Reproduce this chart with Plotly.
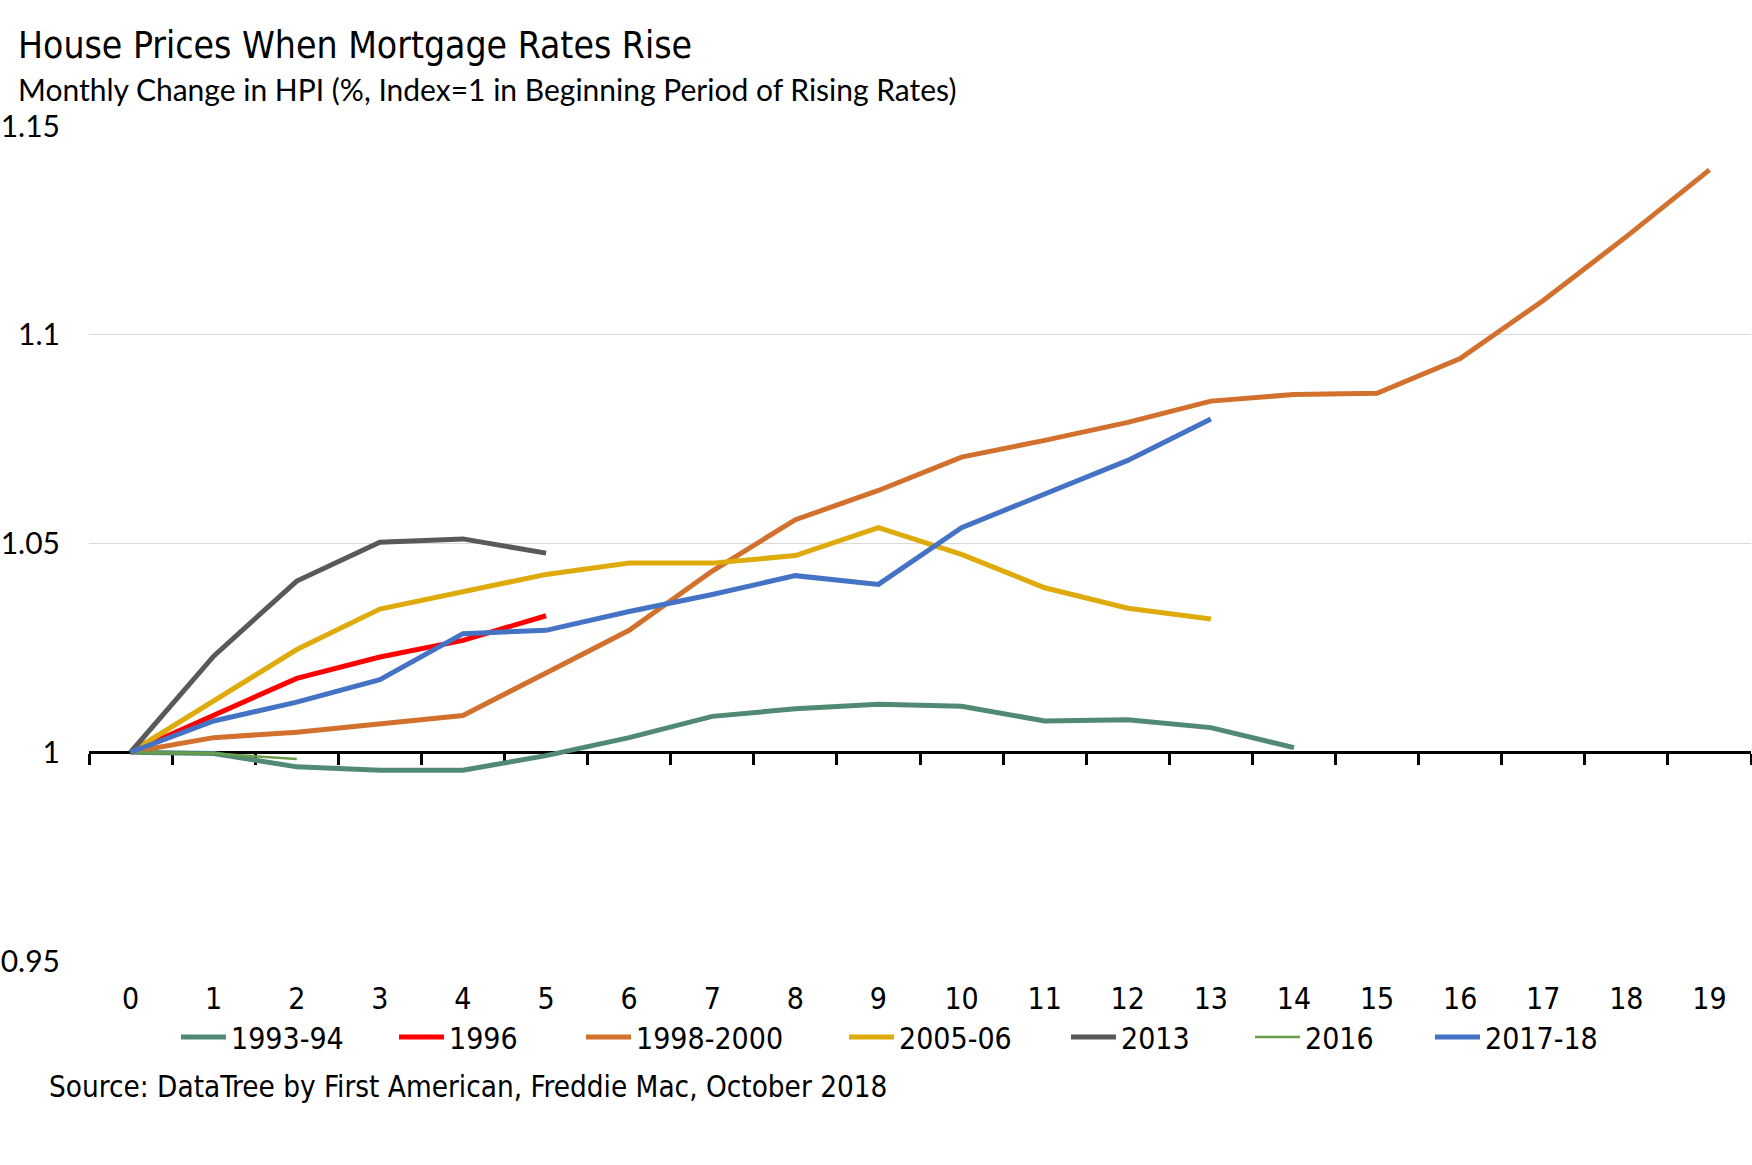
import plotly.graph_objects as go

months = list(range(20))
tick_labels = [str(m) for m in months]

s1993 = [1.0, 0.9997, 0.9965, 0.9957, 0.9957, 0.9992, 1.0035, 1.0086, 1.0104, 1.0115, 1.0110, 1.0075, 1.0078, 1.0059, 1.0011]
s1996 = [1.0, 1.0088, 1.0177, 1.0228, 1.0268, 1.0327]
s1998 = [1.0, 1.0035, 1.0048, 1.0067, 1.0088, 1.0190, 1.0292, 1.0434, 1.0557, 1.0627, 1.0707, 1.0747, 1.0790, 1.0841, 1.0857, 1.0860, 1.0943, 1.1082, 1.1235, 1.1395]
s2005 = [1.0, 1.0123, 1.0246, 1.0343, 1.0383, 1.0426, 1.0453, 1.0453, 1.0471, 1.0538, 1.0474, 1.0394, 1.0345, 1.0319]
s2013 = [1.0, 1.0230, 1.0410, 1.0503, 1.0511, 1.0477]
s2016 = [1.0, 0.9997, 0.9984]
s2017 = [1.0, 1.0075, 1.0120, 1.0174, 1.0284, 1.0292, 1.0337, 1.0378, 1.0423, 1.0402, 1.0538, 1.0619, 1.0699, 1.0798]

series_names = ["1993-94", "1996", "1998-2000", "2005-06", "2013", "2016", "2017-18"]
series_values = [s1993, s1996, s1998, s2005, s2013, s2016, s2017]
colors = ["#518A72", "#FF0000", "#D2712E", "#DFAB0C", "#595959", "#6B9D48", "#4472C4"]
widths = [5, 5, 5, 5, 5, 2.5, 5]

y_ticks = [0.95, 1.0, 1.05, 1.1, 1.15]
y_tick_text = ["0.95", "1", "1.05", "1.1", "1.15"]
y_range = [0.95, 1.15]
x_range = [-0.5, 19.5]

# layout geometry (pixels)
FIG_W, FIG_H = 1752, 1165
L, R, T, B = 89, 1, 126, 204
PW = FIG_W - L - R
PH = FIG_H - T - B

def px_x(p):
    return (p - L) / PW

def px_y(p):
    return (FIG_H - B - p) / PH

NARROW = "DejaVu Sans Condensed, Liberation Sans Narrow, sans-serif"
REG = "Lato, Noto Sans, sans-serif"

fig = go.Figure()

legend_x_px = [176, 394, 581, 844, 1066, 1250, 1430]
for i, (name, vals) in enumerate(zip(series_names, series_values)):
    lg = "legend" if i == 0 else f"legend{i+1}"
    fig.add_trace(go.Scatter(
        x=months[:len(vals)], y=vals, name=name, mode="lines",
        line=dict(color=colors[i], width=widths[i]),
        legend=lg,
    ))

# helper invisible trace so the baseline axis (at y=1) is drawn
fig.add_trace(go.Scatter(x=months[:len(s1993)], y=s1993, xaxis="x2", mode="lines",
                         line=dict(width=0), opacity=0, showlegend=False, hoverinfo="skip"))

baseline_pos = (1.0 - y_range[0]) / (y_range[1] - y_range[0])
boundaries = [m - 0.5 for m in months] + [months[-1] + 0.5]

layout_legends = {}
for i in range(len(series_names)):
    key = "legend" if i == 0 else f"legend{i+1}"
    layout_legends[key] = dict(
        x=px_x(legend_x_px[i]), y=px_y(1037), xanchor="left", yanchor="middle",
        orientation="h", font=dict(family=NARROW, size=30, color="#000000"),
        bgcolor="rgba(0,0,0,0)", itemwidth=45,
    )

fig.update_layout(
    width=FIG_W, height=FIG_H,
    margin=dict(l=L, r=R, t=T, b=B, autoexpand=False),
    paper_bgcolor="white", plot_bgcolor="white",
    showlegend=True,
    xaxis=dict(range=x_range, tickvals=months, ticktext=tick_labels, automargin=False,
               showgrid=False, zeroline=False, showline=False,
               ticks="outside", ticklen=11, tickcolor="rgba(0,0,0,0)",
               tickfont=dict(family=NARROW, size=30, color="#000000")),
    xaxis2=dict(range=x_range, overlaying="x", anchor="free", position=baseline_pos,
                side="bottom", showline=True, linecolor="#000000", linewidth=3,
                tickvals=boundaries, ticks="outside", ticklen=11, tickwidth=2.5,
                tickcolor="#000000", showticklabels=False, showgrid=False, automargin=False,
                zeroline=False, layer="below traces"),
    yaxis=dict(range=y_range, tickvals=y_ticks, ticktext=y_tick_text, automargin=False,
               showgrid=True, gridcolor="#D9D9D9", gridwidth=1, zeroline=False,
               showline=False, ticks="outside", ticklen=22, tickcolor="rgba(0,0,0,0)",
               tickfont=dict(family=REG, size=30, color="#000000")),
    annotations=[
        dict(text="House Prices When Mortgage Rates Rise", xref="paper", yref="paper",
             x=px_x(16), y=px_y(45), xanchor="left", yanchor="middle", showarrow=False,
             font=dict(family=NARROW, size=37, color="#000000")),
        dict(text="Monthly Change in HPI (%, Index=1 in Beginning Period of Rising Rates)",
             xref="paper", yref="paper", x=px_x(16), y=px_y(89), xanchor="left",
             yanchor="middle", showarrow=False,
             font=dict(family=REG, size=30, color="#000000")),
        dict(text="Source: DataTree by First American, Freddie Mac, October 2018",
             xref="paper", yref="paper", x=px_x(47), y=px_y(1087), xanchor="left",
             yanchor="middle", showarrow=False,
             font=dict(family=NARROW, size=29.4, color="#000000")),
    ],
    **layout_legends,
)

fig.write_html("out.html", config={"displayModeBar": False},
               post_script="document.body.style.margin='0px';document.body.style.overflow='hidden';")
